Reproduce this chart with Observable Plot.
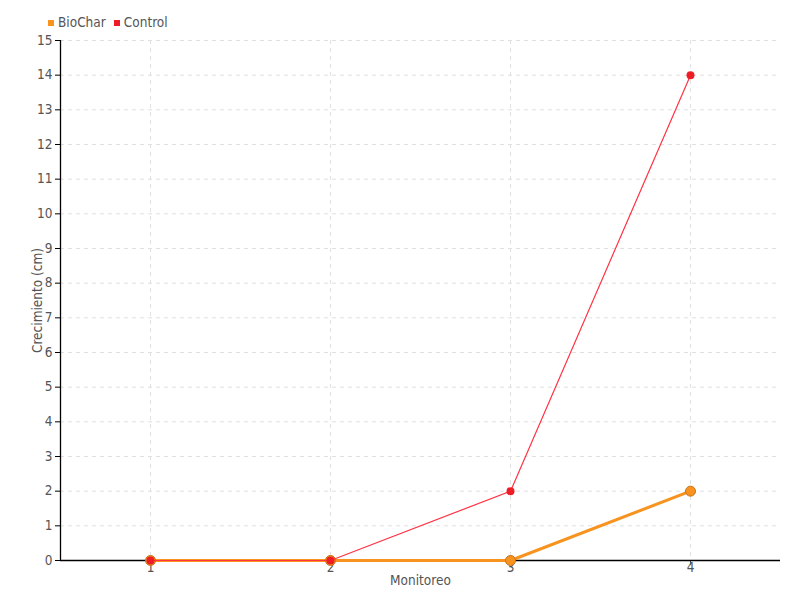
<!DOCTYPE html>
<html>
<head>
<meta charset="utf-8">
<script src="https://cdn.jsdelivr.net/npm/d3@7"></script>
<script src="https://cdn.jsdelivr.net/npm/@observablehq/plot@0.6"></script>
<style>
  body { margin: 0; background: #fff; }
  #wrap { position: relative; width: 800px; height: 600px; font-family: "DejaVu Sans Condensed", "Liberation Sans Narrow", sans-serif; }
  #legend { position: absolute; left: 48px; top: 14px; font-size: 13.5px; color: #555; display: flex; gap: 8px; }
  #legend span.sw { display: inline-block; width: 6px; height: 6px; margin-right: 4px; vertical-align: 1px; }
</style>
</head>
<body>
<div id="wrap"><div id="legend"></div></div>
<script>
const monitoreo = [1, 2, 3, 4];
const seriesNames = ["BioChar", "Control"];
const biochar = [0, 0, 0, 2];
const control = [0, 0, 2, 14];
const yTicks = d3.range(0, 16);
const colors = {BioChar: "#f7931e", Control: "#ee1c25"};

const bioData = monitoreo.map((m, i) => ({m, v: biochar[i], s: "BioChar"}));
const ctrlData = monitoreo.map((m, i) => ({m, v: control[i], s: "Control"}));

const chart = Plot.plot({
  width: 800,
  height: 600,
  marginLeft: 60,
  marginRight: 20,
  marginTop: 40,
  marginBottom: 40,
  style: {fontFamily: '"DejaVu Sans Condensed", "Liberation Sans Narrow", sans-serif', fontSize: "13.5px", color: "#555", background: "#fff"},
  x: {domain: [0.5, 4.5]},
  y: {domain: [0, 15]},
  marks: [
    Plot.gridY(yTicks, {stroke: "#e0e0e0", strokeOpacity: 1, strokeDasharray: "4,4"}),
    Plot.gridX(monitoreo, {stroke: "#e0e0e0", strokeOpacity: 1, strokeDasharray: "4,4"}),
    Plot.axisY(yTicks, {tickSize: 5, tickPadding: 3, tickFormat: d => d, label: "Crecimiento (cm)", labelAnchor: "center", labelArrow: "none", labelOffset: 28, stroke: "#000", fill: "#555"}),
    Plot.axisX(monitoreo, {tickSize: 5, tickPadding: -3, tickFormat: d => d, label: "Monitoreo", labelAnchor: "center", labelArrow: "none", labelOffset: 24, stroke: "#555", fill: "#555"}),
    Plot.ruleY([0], {stroke: "#000", strokeWidth: 1.3}),
    Plot.ruleX([0.5], {stroke: "#000", strokeWidth: 1.3}),
    Plot.line(bioData, {x: "m", y: "v", stroke: colors.BioChar, strokeWidth: 3}),
    Plot.dot(bioData, {x: "m", y: "v", r: 5, fill: colors.BioChar, stroke: "#c8731a", strokeWidth: 1}),
    Plot.line(ctrlData, {x: "m", y: "v", stroke: "#ff3344", strokeWidth: 1.2}),
    Plot.dot(ctrlData, {x: "m", y: "v", r: 4, fill: colors.Control, stroke: "none"})
  ]
});
document.getElementById("wrap").appendChild(chart);

const legend = document.getElementById("legend");
seriesNames.forEach(n => {
  const item = document.createElement("div");
  item.innerHTML = `<span class="sw" style="background:${colors[n]}"></span>${n}`;
  legend.appendChild(item);
});
</script>
</body>
</html>
